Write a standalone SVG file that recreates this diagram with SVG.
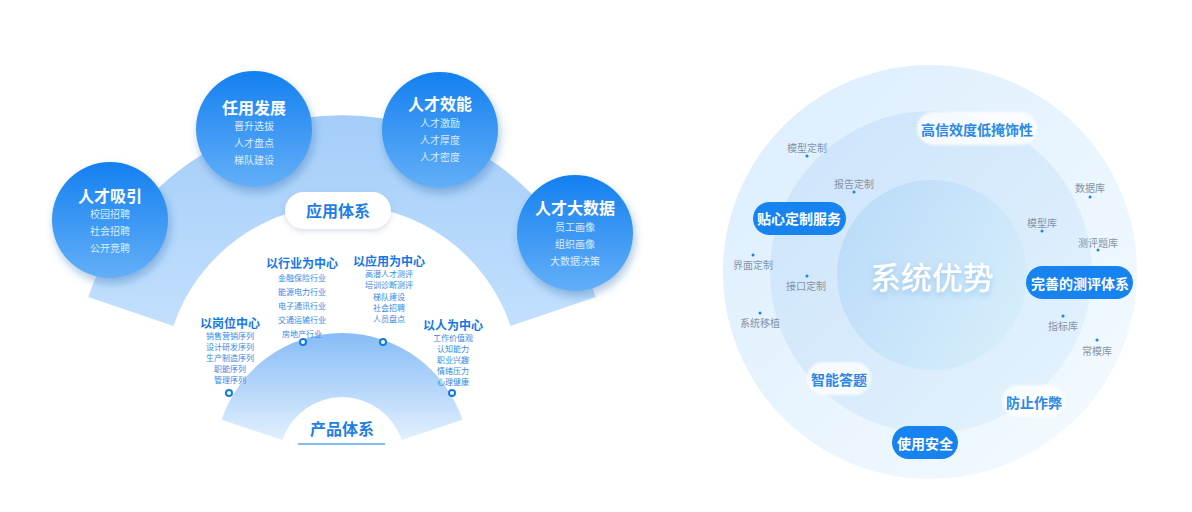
<svg xmlns="http://www.w3.org/2000/svg" width="1192" height="512" viewBox="0 0 1192 512">
<defs>
<linearGradient id="gBand" x1="0" y1="115" x2="0" y2="330" gradientUnits="userSpaceOnUse">
<stop offset="0" stop-color="#a4cdf9"/><stop offset="1" stop-color="#c3e0fd"/>
</linearGradient>
<linearGradient id="gFan" x1="0" y1="333" x2="0" y2="445" gradientUnits="userSpaceOnUse">
<stop offset="0" stop-color="#86bcf6"/><stop offset="1" stop-color="#e6f2fe"/>
</linearGradient>
<linearGradient id="gCircle" x1="0" y1="0" x2="0" y2="1">
<stop offset="0" stop-color="#1480f0"/><stop offset="1" stop-color="#63aff7"/>
</linearGradient>
<linearGradient id="gOuter" x1="0" y1="0" x2="1" y2="1">
<stop offset="0" stop-color="#dbedfd"/><stop offset="1" stop-color="#f5fbff"/>
</linearGradient>
<linearGradient id="gMid" x1="0" y1="0" x2="1" y2="1">
<stop offset="0" stop-color="#cbe3fb"/><stop offset="1" stop-color="#e5f3fd"/>
</linearGradient>
<linearGradient id="gInner" x1="0" y1="0" x2="1" y2="0.6">
<stop offset="0" stop-color="#b8d9f8"/><stop offset="1" stop-color="#d4edfb"/>
</linearGradient>
<filter id="shC" x="-30%" y="-30%" width="160%" height="170%">
<feDropShadow dx="2" dy="5" stdDeviation="4" flood-color="#1d5fa8" flood-opacity="0.35"/>
</filter>
<filter id="shP" x="-20%" y="-40%" width="140%" height="190%">
<feDropShadow dx="0" dy="2" stdDeviation="3" flood-color="#6f8fb5" flood-opacity="0.3"/>
</filter>
<filter id="glow" x="-20%" y="-40%" width="140%" height="180%">
<feGaussianBlur stdDeviation="1.2"/>
</filter>
<filter id="shT" x="-10%" y="-30%" width="120%" height="170%">
<feDropShadow dx="0" dy="3" stdDeviation="3" flood-color="#6aa6de" flood-opacity="0.5"/>
</filter>
<style>
text{font-family:"Noto Sans CJK SC","Noto Sans",sans-serif;text-anchor:middle;dominant-baseline:central}
.ct{font-size:16px;font-weight:bold;fill:#fff}
.ci{font-size:10px;fill:#dcecff}
.kt{font-size:12px;font-weight:bold;fill:#1677e8}
.ki{font-size:8px;fill:#3589e6}
.dot{fill:#fff;stroke:#1677e8;stroke-width:2}
.sec{font-size:16px;font-weight:bold;fill:#1c7ee6}
.pb{fill:#1683f0}
.pl{fill:#ffffff;fill-opacity:0.8}
.tb{font-size:14px;font-weight:bold;fill:#fff}
.tl{font-size:14px;font-weight:bold;fill:#2c88e6}
.sm{font-size:10px;fill:#8693a8}
.sd{fill:#1683f0}
</style>
</defs>
<rect width="1192" height="512" fill="#ffffff"/>

<!-- LEFT DIAGRAM -->
<g id="band">
<path d="M88.2,297.1 A268,268 0 0 1 595.8,297.1 L510.6,325.9 A178,178 0 0 0 173.4,325.9 Z" fill="url(#gBand)"/>
</g>
<g id="fan-product">
<path d="M221.6,419.7 A127,127 0 0 1 462.4,419.7 L401.7,440 A63,63 0 0 0 282.3,440 Z" fill="url(#gFan)"/>
<text class="sec" x="342" y="428">产品体系</text>
<line x1="298" y1="444" x2="385" y2="444" stroke="#5fa6f0" stroke-width="1.5"/>
</g>

<g id="pill-app">
<rect x="285" y="192" width="106" height="37" rx="18.5" fill="#fff" filter="url(#shP)"/>
<text class="sec" x="338" y="210">应用体系</text>
</g>

<g id="node-attract">
<circle cx="110" cy="220" r="58" fill="url(#gCircle)" filter="url(#shC)"/>
<text class="ct" x="110" y="195">人才吸引</text>
<text class="ci" x="110" y="213">校园招聘</text>
<text class="ci" x="110" y="230">社会招聘</text>
<text class="ci" x="110" y="247">公开竞聘</text>
</g>
<g id="node-develop">
<circle cx="254" cy="129" r="58" fill="url(#gCircle)" filter="url(#shC)"/>
<text class="ct" x="254" y="107">任用发展</text>
<text class="ci" x="254" y="125">晋升选拔</text>
<text class="ci" x="254" y="142">人才盘点</text>
<text class="ci" x="254" y="159">梯队建设</text>
</g>
<g id="node-efficiency">
<circle cx="440" cy="130" r="58" fill="url(#gCircle)" filter="url(#shC)"/>
<text class="ct" x="440" y="103">人才效能</text>
<text class="ci" x="440" y="122">人才激励</text>
<text class="ci" x="440" y="139">人才厚度</text>
<text class="ci" x="440" y="156">人才密度</text>
</g>
<g id="node-bigdata">
<circle cx="575" cy="233" r="58" fill="url(#gCircle)" filter="url(#shC)"/>
<text class="ct" x="575" y="207">人才大数据</text>
<text class="ci" x="575" y="226">员工画像</text>
<text class="ci" x="575" y="243">组织画像</text>
<text class="ci" x="575" y="260">大数据决策</text>
</g>

<g id="cat-post">
<text class="kt" x="230" y="322">以岗位中心</text>
<text class="ki" x="230" y="335">销售营销序列</text>
<text class="ki" x="230" y="346">设计研发序列</text>
<text class="ki" x="230" y="357">生产制造序列</text>
<text class="ki" x="230" y="368">职能序列</text>
<text class="ki" x="230" y="379">管理序列</text>
<circle class="dot" cx="229" cy="393" r="3"/>
</g>
<g id="cat-industry">
<text class="kt" x="302" y="262">以行业为中心</text>
<text class="ki" x="302" y="277">金融保险行业</text>
<text class="ki" x="302" y="291">能源电力行业</text>
<text class="ki" x="302" y="305">电子通讯行业</text>
<text class="ki" x="302" y="319">交通运输行业</text>
<text class="ki" x="302" y="333">房地产行业</text>
<circle class="dot" cx="303" cy="342" r="3"/>
</g>
<g id="cat-application">
<text class="kt" x="389" y="260.5">以应用为中心</text>
<text class="ki" x="389" y="273.5">高潜人才测评</text>
<text class="ki" x="389" y="284.5">培训诊断测评</text>
<text class="ki" x="389" y="296">梯队建设</text>
<text class="ki" x="389" y="307">社会招聘</text>
<text class="ki" x="389" y="318">人员盘点</text>
<circle class="dot" cx="383" cy="342" r="3"/>
</g>
<g id="cat-people">
<text class="kt" x="453" y="324.5">以人为中心</text>
<text class="ki" x="453" y="337">工作价值观</text>
<text class="ki" x="453" y="348">认知能力</text>
<text class="ki" x="453" y="359">职业兴趣</text>
<text class="ki" x="453" y="370">情绪压力</text>
<text class="ki" x="453" y="381">心理健康</text>
<circle class="dot" cx="452" cy="393" r="3"/>
</g>

<!-- RIGHT DIAGRAM -->
<g id="rings">
<circle cx="930" cy="272" r="207" fill="url(#gOuter)"/>
<circle cx="931" cy="272" r="161" fill="url(#gMid)"/>
<circle cx="932" cy="275" r="95" fill="url(#gInner)"/>
</g>
<g id="center-label">
<text x="932" y="275" font-size="31" fill="#ffffff" filter="url(#shT)" style="font-weight:500">系统优势</text>
</g>

<g id="adv-reliable">
<rect x="917" y="112" width="120" height="33" rx="16.5" class="pl" filter="url(#glow)"/>
<text class="tl" x="977" y="129">高信效度低掩饰性</text>
</g>
<g id="adv-custom">
<rect x="753" y="202" width="93" height="33" rx="16.5" class="pb"/>
<text class="tb" x="799" y="218">贴心定制服务</text>
</g>
<g id="adv-system">
<rect x="1026" y="266" width="107" height="33" rx="16.5" class="pb"/>
<text class="tb" x="1080" y="283">完善的测评体系</text>
</g>
<g id="adv-smart">
<rect x="807" y="362" width="64" height="33" rx="16.5" class="pl" filter="url(#glow)"/>
<text class="tl" x="839" y="379">智能答题</text>
</g>
<g id="adv-anticheat">
<rect x="1002" y="385" width="63" height="32" rx="16" class="pl" filter="url(#glow)"/>
<text class="tl" x="1034" y="402">防止作弊</text>
</g>
<g id="adv-safe">
<rect x="892" y="426" width="66" height="33" rx="16.5" class="pb"/>
<text class="tb" x="925" y="443">使用安全</text>
</g>

<g id="sub-labels">
<text class="sm" x="807" y="147">模型定制</text><circle class="sd" cx="807" cy="156" r="1.5"/>
<text class="sm" x="854" y="183">报告定制</text><circle class="sd" cx="854" cy="192" r="1.5"/>
<text class="sm" x="753" y="264">界面定制</text><circle class="sd" cx="753" cy="255" r="1.5"/>
<text class="sm" x="806" y="285">接口定制</text><circle class="sd" cx="807" cy="276" r="1.5"/>
<text class="sm" x="760" y="322">系统移植</text><circle class="sd" cx="760" cy="313" r="1.5"/>
<text class="sm" x="1090" y="187">数据库</text><circle class="sd" cx="1090" cy="197" r="1.5"/>
<text class="sm" x="1042" y="222">模型库</text><circle class="sd" cx="1042" cy="231" r="1.5"/>
<text class="sm" x="1098" y="242">测评题库</text><circle class="sd" cx="1098" cy="250" r="1.5"/>
<text class="sm" x="1063" y="325">指标库</text><circle class="sd" cx="1063" cy="316" r="1.5"/>
<text class="sm" x="1097" y="350">常模库</text><circle class="sd" cx="1097" cy="340" r="1.5"/>
</g>
</svg>
